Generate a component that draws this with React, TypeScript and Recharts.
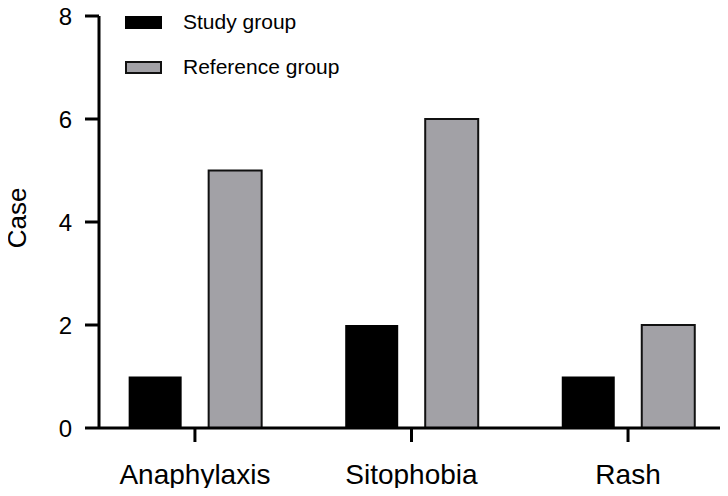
import React from 'react';
import { BarChart, Bar, XAxis, YAxis, Legend } from 'recharts';

const categories = ['Anaphylaxis', 'Sitophobia', 'Rash'];
const studyGroup = [1, 2, 1];
const referenceGroup = [5, 6, 2];
const seriesNames = ['Study group', 'Reference group'];
const yTicks = [0, 2, 4, 6, 8];

const data = categories.map((name, i) => ({
  idx: i,
  name,
  study: studyGroup[i],
  reference: referenceGroup[i],
}));

const FONT = '"Liberation Sans", Arial, Helvetica, sans-serif';

const renderLegend = (props: any) => {
  // keep the series order, not alphabetical
  const items = [...(props.payload || [])].sort(
    (a: any, b: any) => seriesNames.indexOf(a.value) - seriesNames.indexOf(b.value)
  );
  return (
    <div style={{ fontFamily: FONT }}>
      {items.map((entry: any) => {
        const p = entry.payload || {};
        return (
          <div
            key={entry.value}
            style={{ display: 'flex', alignItems: 'center', height: 30, marginBottom: 15 }}
          >
            <div
              style={{
                width: 37,
                height: 13,
                boxSizing: 'border-box',
                background: p.fill,
                border: p.stroke ? `2px solid ${p.stroke}` : 'none',
              }}
            />
            <span style={{ marginLeft: 21, fontSize: 21, color: '#000' }}>{entry.value}</span>
          </div>
        );
      })}
    </div>
  );
};

export default function App() {
  return (
    <div style={{ margin: -8, width: 728, height: 496 }}>
      <BarChart
        width={728}
        height={496}
        data={data}
        margin={{ top: 16, right: 1, bottom: 0, left: 0 }}
        barGap={27}
      >
        <XAxis
          dataKey="idx"
          type="number"
          domain={[-0.443, 2.457]}
          ticks={[0, 1, 2]}
          tickFormatter={(v: number) => categories[v]}
          height={68}
          tickSize={14}
          tickMargin={22}
          axisLine={{ stroke: '#000', strokeWidth: 3 }}
          tickLine={{ stroke: '#000', strokeWidth: 3 }}
          tick={{ fill: '#000', fontSize: 28, fontFamily: FONT }}
          allowDecimals={false}
        />
        <YAxis
          domain={[0, 8]}
          ticks={yTicks}
          width={99}
          tickSize={14}
          tickMargin={13}
          axisLine={{ stroke: '#000', strokeWidth: 3 }}
          tickLine={{ stroke: '#000', strokeWidth: 3 }}
          tick={{ fill: '#000', fontSize: 24, fontFamily: FONT }}
          label={{
            value: 'Case',
            angle: -90,
            position: 'insideLeft',
            offset: 0,
            dx: 17,
            dy: -4,
            style: { fill: '#000', fontSize: 26, fontFamily: FONT, textAnchor: 'middle' },
          }}
        />
        <Legend
          layout="vertical"
          align="center"
          verticalAlign="middle"
          wrapperStyle={{ left: 125, top: 7 }}
          content={renderLegend}
        />
        <Bar dataKey="study" name="Study group" fill="#000" barSize={53} isAnimationActive={false} />
        <Bar
          dataKey="reference"
          name="Reference group"
          fill="#a2a1a6"
          stroke="#111"
          strokeWidth={2}
          barSize={53}
          isAnimationActive={false}
        />
      </BarChart>
    </div>
  );
}
